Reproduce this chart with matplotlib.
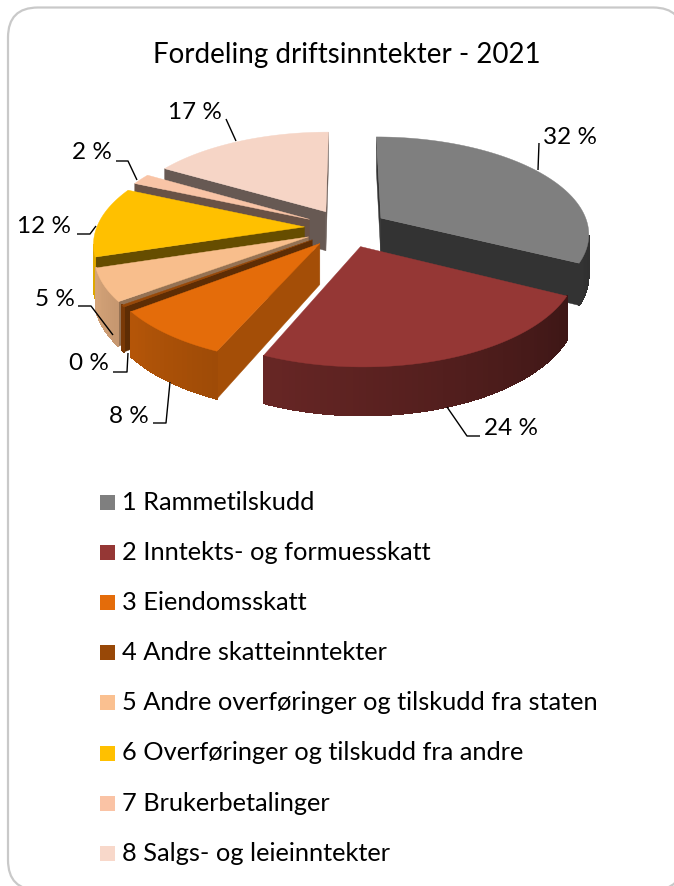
#!/usr/bin/env python3
"""Exploded 3D pie of operating income, drawn from polygons in pixel space."""

import numpy as np
import matplotlib
matplotlib.use("Agg")
import matplotlib.pyplot as plt
from matplotlib.patches import FancyBboxPatch, Polygon, Rectangle
from matplotlib.colors import to_rgb

TITLE = "Fordeling driftsinntekter - 2021"
categories = [
    "1 Rammetilskudd",
    "2 Inntekts- og formuesskatt",
    "3 Eiendomsskatt",
    "4 Andre skatteinntekter",
    "5 Andre overføringer og tilskudd fra staten",
    "6 Overføringer og tilskudd fra andre",
    "7 Brukerbetalinger",
    "8 Salgs- og leieinntekter",
]
# shares, the labels show them rounded
values = [32.4, 24.0, 8.0, 0.3, 5.3, 11.5, 1.8, 16.5]
value_labels = ["32 %", "24 %", "8 %", "0 %", "5 %", "12 %", "2 %", "17 %"]

colors = ["#7F7F7F", "#953735", "#E46C0A", "#984807",
          "#F8BE8C", "#FFC000", "#F9C4A6", "#F6D5C6"]
cut_shade = [0.40, 0.70, 0.72, 0.62, 0.60, 0.40, 0.42, 0.42]

# painter's order, back to front
draw_order = [7, 0, 6, 5, 4, 3, 2, 1]

# label anchor (left, vertical centre) and leader line, in pixels
label_pos = [(543, 137), (484, 428), (109, 416), (69, 364),
             (35, 299), (17, 226), (72, 152), (168, 112)]
leaders = [
    [(538, 170), (539, 143)],
    [(447, 407), (467, 436), (480, 436)],
    [(170, 382), (166, 423), (153, 423)],
    [(128, 353), (127, 372), (113, 372)],
    [(113, 335), (91, 306), (78, 306)],
    [(96, 226), (90, 234), (77, 234)],
    [(137, 180), (128, 161), (116, 161)],
    [(236, 141), (226, 119)],
]

CX, CY = 346, 228
R = 208
K = 0.462      # vertical squash of the pie plane
PERSP = 0.15   # perspective strength
EXPLODE = 0.20
DEPTH = 40


def project(u, v, down=0.0):
    s = 1 / (1 + PERSP * v)
    return CX + R * u * s, CY - R * K * v * s + down * DEPTH * s


def shade(color, f):
    return tuple(c * f for c in to_rgb(color))


def rim_shade(theta):
    return float(np.clip(0.40 + 0.45 * (np.rad2deg(theta) - 115) / 135, 0.38, 0.88))


def facing(pts):
    # signed area in y-down pixels, negative is wound towards the viewer here
    x, y = np.array(pts).T
    return 0.5 * np.sum(x * np.roll(y, -1) - np.roll(x, -1) * y) < 0


fig = plt.figure(figsize=(6.74, 8.86), dpi=100)
plt.rcParams["font.family"] = ["Lato", "DejaVu Sans"]
ax = fig.add_axes([0, 0, 1, 1])
ax.set_xlim(0, 674)
ax.set_ylim(886, 0)
ax.axis("off")

ax.add_patch(FancyBboxPatch((8, 7.5), 675, 882.5, boxstyle="round,pad=0,rounding_size=30",
                            facecolor="white", edgecolor="#C9C9C9", linewidth=1.6,
                            clip_on=True))

fracs = np.array(values) / sum(values)
edges = np.concatenate([[0], np.cumsum(fracs)]) * 2 * np.pi


def draw_slice(i):
    t0, t1 = edges[i], edges[i + 1]
    mid = (t0 + t1) / 2
    ou, ov = EXPLODE * np.sin(mid), EXPLODE * np.cos(mid)
    arc = np.linspace(t0, t1, max(3, int(np.rad2deg(t1 - t0) / 1.5) + 2))
    us, vs = ou + np.sin(arc), ov + np.cos(arc)

    # the two cut faces
    for ta in (t0, t1):
        ua, va = ou + np.sin(ta), ov + np.cos(ta)
        pts = [project(ou, ov), project(ua, va), project(ua, va, 1), project(ou, ov, 1)]
        if (ta == t0) != facing(pts):
            continue
        ax.add_patch(Polygon(pts, closed=True, facecolor=shade(colors[i], cut_shade[i]),
                             edgecolor=shade(colors[i], cut_shade[i]), linewidth=0.3, zorder=2))

    # outer wall, one strip per step so it can carry the gradient
    for j in range(len(arc) - 1):
        pts = [project(us[j], vs[j]), project(us[j + 1], vs[j + 1]),
               project(us[j + 1], vs[j + 1], 1), project(us[j], vs[j], 1)]
        if not facing(pts):
            continue
        c = shade(colors[i], rim_shade((arc[j] + arc[j + 1]) / 2))
        ax.add_patch(Polygon(pts, closed=True, facecolor=c, edgecolor=c, linewidth=0.5,
                             antialiased=False, zorder=2))

    top = [project(ou, ov)] + [project(u, v) for u, v in zip(us, vs)]
    ax.add_patch(Polygon(top, closed=True, facecolor=colors[i], edgecolor=colors[i],
                         linewidth=0.3, zorder=2))


for i in draw_order:
    draw_slice(i)

for pts, pos, txt in zip(leaders, label_pos, value_labels):
    x, y = zip(*pts)
    ax.plot(x, y, color="black", lw=1.0, zorder=3, solid_capstyle="butt")
    ax.text(pos[0], pos[1], txt, fontsize=17.5, color="black", ha="left", va="center", zorder=4)

ax.text(347, 55, TITLE, fontsize=20, color="black", ha="center", va="center")

legend_colors = ["#7F7F7F", "#953735", "#E46C0A", "#984807",
                 "#FAC090", "#FFC000", "#FAC3A5", "#F8D8CA"]
for n, (name, col) in enumerate(zip(categories, legend_colors)):
    yc = 502.5 + n * 50.1
    ax.add_patch(Rectangle((100, yc - 7.5), 15, 15, facecolor=col, edgecolor="none"))
    ax.text(122, yc, name, fontsize=18.3, color="black", ha="left", va="center")

fig.savefig("out.png", dpi=100)
